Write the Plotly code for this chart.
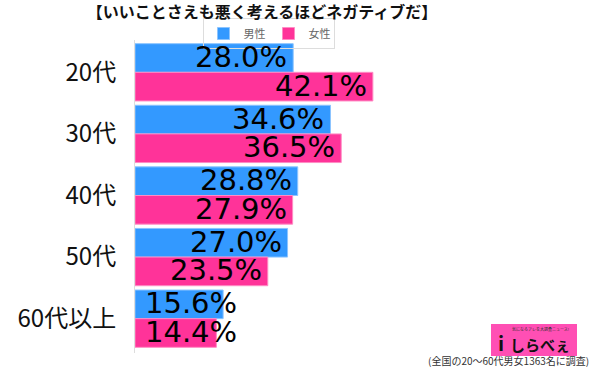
import plotly.graph_objects as go

categories = ["20代", "30代", "40代", "50代", "60代以上"]
male = [28.0, 34.6, 28.8, 27.0, 15.6]
female = [42.1, 36.5, 27.9, 23.5, 14.4]
series_names = ["男性", "女性"]
title_text = "【いいことさえも悪く考えるほどネガティブだ】"
footer_text = "(全国の20～60代男女1363名に調査)"

BLUE = "#3399ff"
PINK = "#ff3399"
FONT = "Noto Sans CJK JP"

fig = go.Figure()
fig.add_trace(go.Bar(y=categories, x=male, name=series_names[0], orientation="h",
                     marker=dict(color=BLUE, line=dict(color="#8cc4ff", width=1))))
fig.add_trace(go.Bar(y=categories, x=female, name=series_names[1], orientation="h",
                     marker=dict(color=PINK, line=dict(color="#ff8cc4", width=1))))

XMAX = 80
PX_PER_UNIT = 452 / XMAX
TEXT_W = 92
for vals, off in ((male, -0.2325), (female, 0.2325)):
    for i, v in enumerate(vals):
        fits = v * PX_PER_UNIT > TEXT_W + 14
        fig.add_annotation(
            x=v if fits else 0, y=i + off, xref="x", yref="y",
            text=f"{v:.1f}%", showarrow=False,
            xanchor="right" if fits else "left",
            xshift=-4 if fits else 8, yshift=1, yanchor="middle",
            font=dict(family="DejaVu Sans", size=29, color="#000000"),
        )

fig.update_layout(
    width=600, height=368,
    margin=dict(l=135, r=13, t=40, b=15, autoexpand=False),
    paper_bgcolor="white", plot_bgcolor="white",
    barmode="group", bargap=0.07, bargroupgap=0,
    font=dict(family=FONT),
    title=dict(text=title_text, x=262 / 600, xanchor="center", xref="container",
               y=1 - 12 / 368, yref="container", yanchor="middle",
               font=dict(family=FONT, size=16, color="#111111", weight="bold")),
    legend=dict(orientation="h", xref="container", yref="container",
                x=268.5 / 600, xanchor="center", y=1 - 18 / 368, yanchor="top",
                bordercolor="#dddddd", borderwidth=1, bgcolor="rgba(255,255,255,0)",
                font=dict(family=FONT, size=11, color="#666666"),
                itemwidth=30, traceorder="normal",
                entrywidth=20, entrywidthmode="pixels"),
    showlegend=True,
)
fig.update_xaxes(range=[0, XMAX], visible=False, fixedrange=True)
fig.update_yaxes(autorange="reversed", showgrid=False, showline=True,
                 linecolor="#dddddd", linewidth=1, ticks="", automargin=False,
                 ticklabelstandoff=13, fixedrange=True,
                 tickfont=dict(family=FONT, size=24, color="#111111"))

PW, PH = 452, 313
def px(xp):
    return (xp - 135) / PW
def py(yp):
    return (353 - yp) / PH

# footer
fig.add_annotation(text=footer_text, xref="paper", yref="paper",
                   x=px(591), y=py(361), xanchor="right", yanchor="middle",
                   showarrow=False, font=dict(family=FONT, size=10, color="#333333"))
# logo
fig.add_shape(type="rect", xref="paper", yref="paper",
              x0=px(491), x1=px(577), y0=py(356), y1=py(324),
              fillcolor="#ff4fb4", line=dict(width=0), layer="above")
fig.add_annotation(text="<b>しらべぇ</b>", xref="paper", yref="paper",
                   x=px(540), y=py(344), showarrow=False,
                   xanchor="center", yanchor="middle",
                   font=dict(family=FONT, size=15, color="#111111"))
fig.add_annotation(text="<b>i</b>", xref="paper", yref="paper",
                   x=px(501), y=py(342), showarrow=False,
                   xanchor="center", yanchor="middle",
                   font=dict(family=FONT, size=20, color="#111111"))
fig.add_annotation(text="気になるアレを大調査ニュース!", xref="paper", yref="paper",
                   x=px(540), y=py(329), showarrow=False,
                   xanchor="center", yanchor="middle",
                   font=dict(family=FONT, size=4, color="#333333"))

fig.write_html("out.html", config={"displayModeBar": False},
               post_script="document.body.style.margin='0';")
